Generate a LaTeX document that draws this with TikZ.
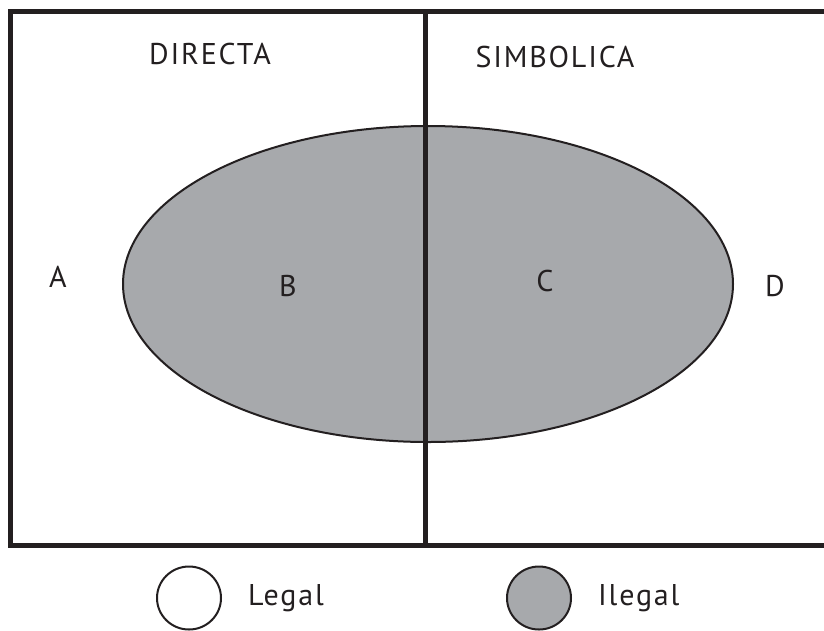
\documentclass[tikz,border=0pt]{standalone}
\usepackage{fontspec}
\setmainfont{PT Sans}[LetterSpace=6]
\usepackage{tikz}
\usetikzlibrary{shapes.geometric}
\usetikzlibrary{positioning}
\usepackage{xcolor}
\definecolor{ilegalgray}{RGB}{167,169,172}
\definecolor{framedark}{RGB}{35,31,32}

\tikzset{
  zone/.style={font=\fontsize{30}{33}\selectfont, text=framedark},
  legendcircle/.style={draw=framedark, line width=2pt, ellipse, minimum width=64pt, minimum height=63pt, inner sep=0pt},
}

\begin{document}
\begin{tikzpicture}[x=1pt, y=-1pt]
            \useasboundingbox (0,0) rectangle (824,630);
            % illegal area
            \node[draw=framedark, line width=2pt, ellipse, fill=ilegalgray, minimum width=610pt, minimum height=316pt, inner sep=0pt] (ilegal) at (428,284) {};

            % frame and divider
            \coordinate (tl) at (10.5,11);
            \coordinate (tr) at (824,11);
            \coordinate (bl) at (10.5,545.5);
            \coordinate (br) at (824,545.5);
            \coordinate (mt) at (425.5,11);
            \coordinate (mb) at (425.5,545.5);
            \draw[line width=5pt, framedark] (tr) -- (tl) -- (bl) -- (br);
            \draw[line width=5pt, framedark] (mt) -- (mb);

            \node[zone] (directa) at (210,54) {DIRECTA};
            \node[zone] (simbolica) at (555,57) {SIMBOLICA};
            \node[zone] (a) at (58,277) {A};
            \node[zone] (b) at (288,286) {B};
            \node[zone] (c) at (545,281) {C};
            \node[zone] (d) at (775,286) {D};

            % legend
            \node[legendcircle, fill=white] (legal) at (189,598) {};
            \node[zone, right=26pt of legal, inner sep=0pt] (legaltxt) {Legal};
            \node[legendcircle, fill=ilegalgray] (ilegalkey) at (539,598) {};
            \node[zone, right=26pt of ilegalkey, inner sep=0pt] (ilegaltxt) {Ilegal};
\end{tikzpicture}
\end{document}
